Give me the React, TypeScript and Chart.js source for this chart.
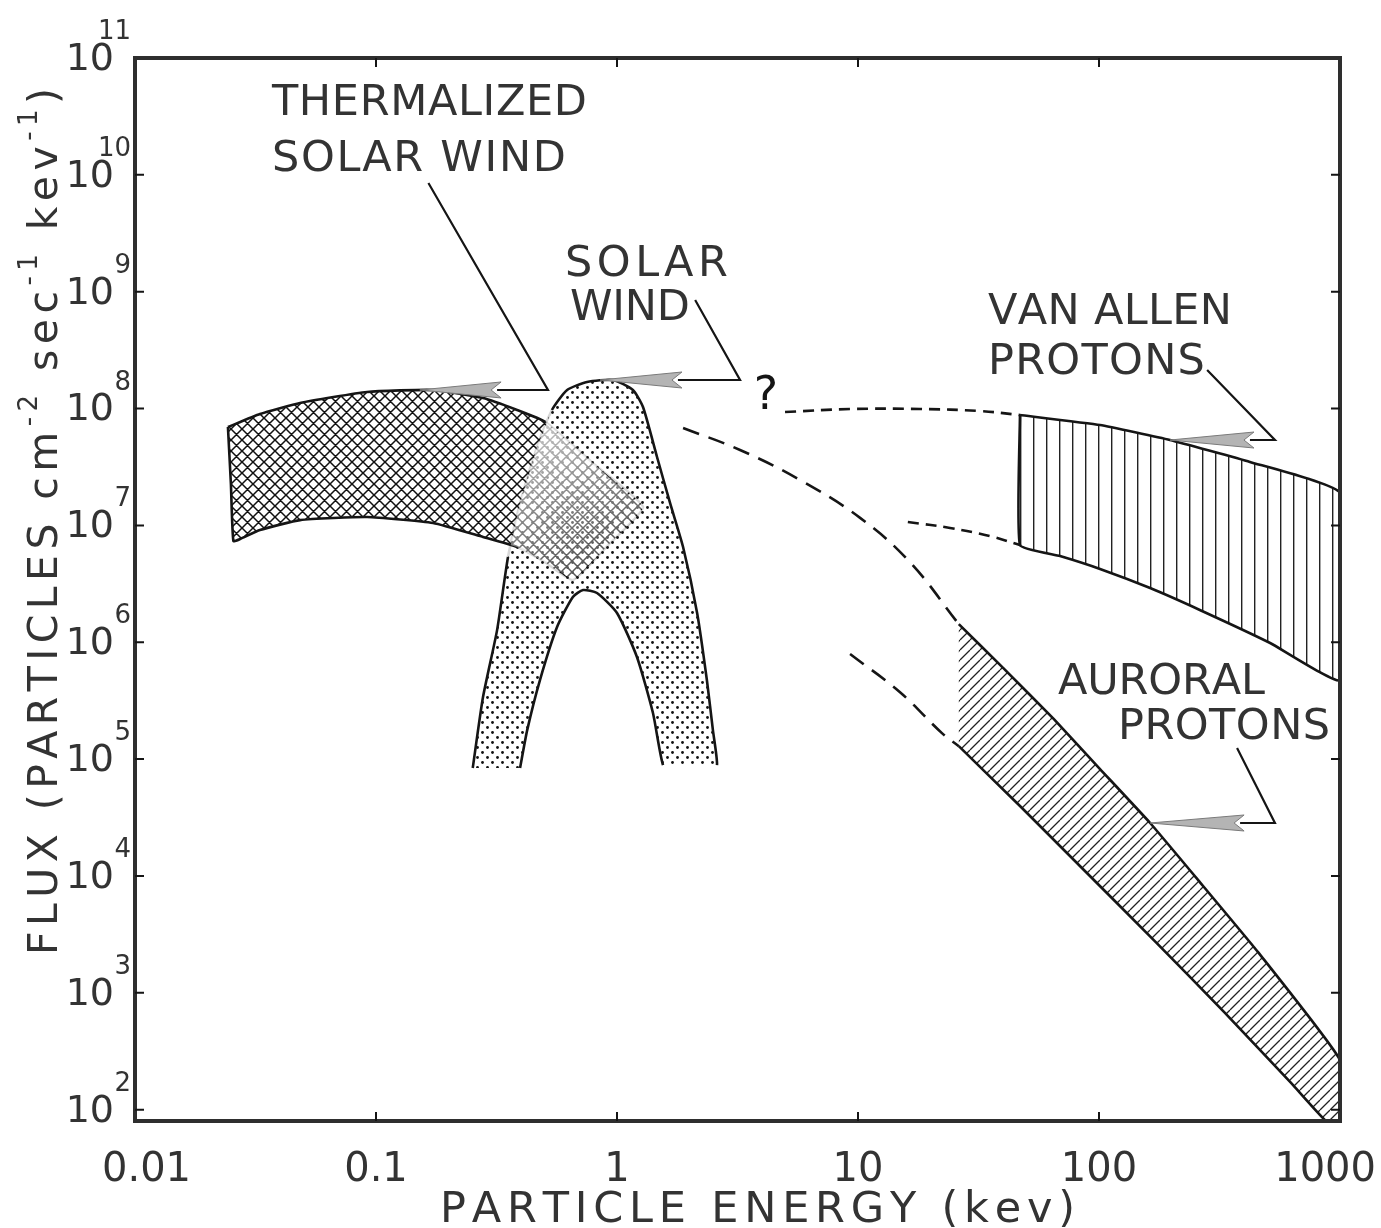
import React, { useEffect, useRef } from 'react';
import { Chart, registerables } from 'chart.js';

Chart.register(...registerables);

type Pt = { x: number; y: number };

// ---------- axes ----------
const xTickValues = [0.01, 0.1, 1, 10, 100, 1000];
const xTickLabels = ['0.01', '0.1', '1', '10', '100', '1000'];
const yTickExponents = [2, 3, 4, 5, 6, 7, 8, 9, 10, 11];
const xTitle = 'PARTICLE ENERGY (kev)';
const yTitleParts = [
  { t: 'FLUX (PARTICLES cm', sup: false },
  { t: '-2', sup: true },
  { t: ' sec', sup: false },
  { t: '-1', sup: true },
  { t: ' kev', sup: false },
  { t: '-1', sup: true },
  { t: ')', sup: false },
];

// ---------- regions (energy keV, flux) ----------
const thermalizedSolarWind: Pt[] = [
  { x: 0.0243, y: 6.95e7 }, { x: 0.033, y: 8.98e7 }, { x: 0.0484, y: 1.117e8 }, { x: 0.0918, y: 1.387e8 },
  { x: 0.1725, y: 1.442e8 }, { x: 0.278, y: 1.23e8 }, { x: 0.385, y: 9.72e7 }, { x: 0.505, y: 7.67e7 },
  { x: 0.811, y: 3.29e7 }, { x: 1.282, y: 1.436e7 }, { x: 0.918, y: 6.79e6 }, { x: 0.656, y: 3.41e6 },
  { x: 0.502, y: 4.86e6 }, { x: 0.385, y: 6.53e6 }, { x: 0.278, y: 7.96e6 }, { x: 0.1725, y: 1.05e7 },
  { x: 0.0918, y: 1.18e7 }, { x: 0.0484, y: 1.11e7 }, { x: 0.033, y: 9.14e6 }, { x: 0.0273, y: 7.65e6 },
  { x: 0.0256, y: 7.35e6 }, { x: 0.025, y: 2.26e7 }, { x: 0.0243, y: 6.95e7 },
];

const solarWind: Pt[] = [
  { x: 0.252, y: 8.39e4 }, { x: 0.278, y: 3.4e5 }, { x: 0.318, y: 1.27e6 }, { x: 0.353, y: 5.37e6 },
  { x: 0.396, y: 1.556e7 }, { x: 0.466, y: 4.69e7 }, { x: 0.537, y: 9.72e7 }, { x: 0.621, y: 1.442e8 },
  { x: 0.751, y: 1.687e8 }, { x: 0.962, y: 1.755e8 }, { x: 1.164, y: 1.442e8 }, { x: 1.282, y: 1.03e8 },
  { x: 1.466, y: 3.85e7 }, { x: 1.66, y: 1.556e7 }, { x: 1.88, y: 6.53e6 }, { x: 2.15, y: 1.78e6 },
  { x: 2.36, y: 4.75e5 }, { x: 2.5, y: 1.77e5 }, { x: 2.6, y: 8.9e4 }, { x: 2.43, y: 8.9e4 },
  { x: 1.66, y: 8.9e4 }, { x: 1.552, y: 8.9e4 }, { x: 1.41, y: 2.48e5 }, { x: 1.21, y: 7.48e5 },
  { x: 1.0, y: 1.78e6 }, { x: 0.826, y: 2.64e6 }, { x: 0.723, y: 2.8e6 }, { x: 0.656, y: 2.44e6 },
  { x: 0.564, y: 1.35e6 }, { x: 0.479, y: 4.75e5 }, { x: 0.424, y: 1.77e5 }, { x: 0.396, y: 8.39e4 },
];

const vanAllenProtons: Pt[] = [
  { x: 47, y: 8.81e7 }, { x: 101, y: 7.23e7 }, { x: 197, y: 5.38e7 }, { x: 423, y: 3.49e7 }, { x: 1000, y: 1.89e7 },
  { x: 1000, y: 4.75e5 }, { x: 513, y: 9.86e5 }, { x: 262, y: 1.89e6 }, { x: 163, y: 2.91e6 }, { x: 101, y: 4.24e6 },
  { x: 68.9, y: 5.47e6 }, { x: 47, y: 6.79e6 }, { x: 47, y: 8.81e7 },
];

const auroralProtons: Pt[] = [
  { x: 26.2, y: 1.43e6 }, { x: 40, y: 6.03e5 }, { x: 65, y: 2.2e5 }, { x: 101, y: 8.22e4 }, { x: 163, y: 2.84e4 },
  { x: 262, y: 8.87e3 }, { x: 457, y: 2.23e3 }, { x: 1000, y: 266 },
  { x: 1000, y: 80 }, { x: 875, y: 80 }, { x: 632, y: 166 }, { x: 330, y: 686 }, { x: 172, y: 2.72e3 },
  { x: 78.7, y: 1.37e4 }, { x: 47, y: 3.97e4 }, { x: 26.2, y: 1.29e5 },
];

// ---------- dashed extrapolations ----------
const vanAllenUpperDash: Pt[] = [
  { x: 4.98, y: 9.34e7 }, { x: 9.27, y: 9.91e7 }, { x: 18.1, y: 9.91e7 }, { x: 32.1, y: 9.53e7 }, { x: 47, y: 8.81e7 },
];
const vanAllenLowerDash: Pt[] = [
  { x: 16.1, y: 1.07e7 }, { x: 24.1, y: 9.51e6 }, { x: 35.3, y: 8.11e6 }, { x: 47, y: 6.79e6 },
];
const auroralUpperDash: Pt[] = [
  { x: 1.88, y: 6.82e7 }, { x: 3.24, y: 4.42e7 }, { x: 5.74, y: 2.45e7 }, { x: 10.2, y: 1.16e7 },
  { x: 16.4, y: 4.86e6 }, { x: 26.2, y: 1.43e6 },
];
const auroralLowerDash: Pt[] = [
  { x: 9.27, y: 7.93e5 }, { x: 14.9, y: 3.75e5 }, { x: 22.3, y: 1.67e5 }, { x: 26.2, y: 1.29e5 },
];

// ---------- annotations ----------
const thermalLeader: Pt[] = [{ x: 0.165, y: 8.51e9 }, { x: 0.517, y: 1.442e8 }, { x: 0.318, y: 1.442e8 }];
const solarLeader: Pt[] = [{ x: 2.11, y: 8.49e8 }, { x: 3.24, y: 1.755e8 }, { x: 1.79, y: 1.755e8 }];
const vanAllenLeader: Pt[] = [{ x: 281, y: 2.14e8 }, { x: 537, y: 5.38e7 }, { x: 423, y: 5.38e7 }];
const auroralLeader: Pt[] = [{ x: 374, y: 1.245e5 }, { x: 537, y: 2.84e4 }, { x: 385, y: 2.84e4 }];
const leaders = [thermalLeader, solarLeader, vanAllenLeader, auroralLeader];
const arrowTips: Pt[] = [{ x: 0.152, y: 1.442e8 }, { x: 0.85, y: 1.755e8 }, { x: 197, y: 5.38e7 }, { x: 163, y: 2.84e4 }];
const questionMark: Pt = { x: 4.15, y: 1.256e8 };

const annotationTexts = ['THERMALIZED', 'SOLAR WIND', 'SOLAR', 'WIND', 'VAN ALLEN', 'PROTONS', 'AURORAL', 'PROTONS'];
const annotationAnchors: Pt[] = [
  { x: 0.037, y: 4.04e10 }, { x: 0.037, y: 1.34e10 }, { x: 0.608, y: 1.69e9 }, { x: 0.638, y: 7.11e8 },
  { x: 34.6, y: 6.57e8 }, { x: 34.6, y: 2.45e8 }, { x: 67.6, y: 4.48e5 }, { x: 120, y: 1.85e5 },
];
// layout only: rendered widths (px) of the hand-lettered labels
const annotationWidths = [315, 294, 163, 120, 244, 217, 207, 212];

// ---------- style ----------
const FONT = '"DejaVu Sans", "Liberation Sans", sans-serif';
const INK = '#151515';
const TXT = '#333333';

function tile(size: number, draw: (c: CanvasRenderingContext2D, s: number) => void) {
  const cv = document.createElement('canvas');
  cv.width = size;
  cv.height = size;
  const c = cv.getContext('2d') as CanvasRenderingContext2D;
  draw(c, size);
  return cv;
}

function drawSpaced(ctx: CanvasRenderingContext2D, text: string, x: number, y: number, target: number, font: string) {
  ctx.font = font;
  const chars = Array.from(text);
  const widths = chars.map((ch) => ctx.measureText(ch).width);
  const sum = widths.reduce((a, b) => a + b, 0);
  const sp = chars.length > 1 ? (target - sum) / (chars.length - 1) : 0;
  let cx = x;
  chars.forEach((ch, i) => {
    ctx.fillText(ch, cx, y);
    cx += widths[i] + sp;
  });
}

function polyPath(ctx: CanvasRenderingContext2D, pts: Pt[], xs: any, ys: any) {
  ctx.beginPath();
  pts.forEach((p, i) => {
    const px = xs.getPixelForValue(p.x);
    const py = ys.getPixelForValue(p.y);
    if (i === 0) ctx.moveTo(px, py); else ctx.lineTo(px, py);
  });
  ctx.closePath();
}

const decorPlugin = {
  id: 'decor',
  afterDatasetsDraw(chart: any) {
    const { ctx, chartArea: a, scales } = chart;
    const xs = scales.x;
    const ys = scales.y;
    ctx.save();

    // washed-out overlap of the two solar-wind regions
    ctx.save();
    polyPath(ctx, solarWind, xs, ys);
    ctx.clip();
    polyPath(ctx, thermalizedSolarWind, xs, ys);
    const g0 = thermalizedSolarWind[7];
    const g1 = thermalizedSolarWind[10];
    const grad = ctx.createLinearGradient(
      xs.getPixelForValue(g0.x), ys.getPixelForValue(g0.y),
      xs.getPixelForValue(g1.x), ys.getPixelForValue(g1.y));
    grad.addColorStop(0, 'rgba(255,255,255,0.75)');
    grad.addColorStop(1, 'rgba(255,255,255,0.3)');
    ctx.fillStyle = grad;
    ctx.fill();
    ctx.restore();

    // arrowheads
    arrowTips.forEach((tip, i) => {
      const back = leaders[i][leaders[i].length - 1];
      const tx = xs.getPixelForValue(tip.x);
      const ty = ys.getPixelForValue(tip.y);
      const bx = xs.getPixelForValue(back.x);
      const by = ys.getPixelForValue(back.y);
      ctx.beginPath();
      ctx.moveTo(tx, ty);
      ctx.lineTo(bx + 4, by - 8);
      ctx.lineTo(bx - 6, by);
      ctx.lineTo(bx + 4, by + 8);
      ctx.closePath();
      ctx.fillStyle = '#b4b4b4';
      ctx.fill();
      ctx.strokeStyle = '#7a7a7a';
      ctx.lineWidth = 1;
      ctx.stroke();
    });

    // frame
    ctx.strokeStyle = '#2e2e2e';
    ctx.lineWidth = 4;
    ctx.strokeRect(a.left, a.top, a.right - a.left, a.bottom - a.top);

    // inward tick marks
    ctx.lineWidth = 2;
    ctx.strokeStyle = INK;
    yTickExponents.forEach((e) => {
      const py = ys.getPixelForValue(Math.pow(10, e));
      if (py <= a.top + 2 || py >= a.bottom - 2) return;
      ctx.beginPath();
      ctx.moveTo(a.left, py); ctx.lineTo(a.left + 9, py);
      ctx.moveTo(a.right, py); ctx.lineTo(a.right - 9, py);
      ctx.stroke();
    });
    xTickValues.forEach((v) => {
      const px = xs.getPixelForValue(v);
      if (px <= a.left + 2 || px >= a.right - 2) return;
      ctx.beginPath();
      ctx.moveTo(px, a.top); ctx.lineTo(px, a.top + 9);
      ctx.moveTo(px, a.bottom); ctx.lineTo(px, a.bottom - 9);
      ctx.stroke();
    });

    ctx.fillStyle = TXT;
    // y tick labels 10^n
    yTickExponents.forEach((e) => {
      const py = ys.getPixelForValue(Math.pow(10, e));
      ctx.font = `38px ${FONT}`;
      ctx.textAlign = 'right';
      ctx.textBaseline = 'middle';
      ctx.fillText('10', 114, py + 2);
      ctx.font = `26px ${FONT}`;
      ctx.textBaseline = 'alphabetic';
      ctx.fillText(String(e), 131, py - 19);
    });
    // x tick labels
    ctx.font = `40px ${FONT}`;
    ctx.textAlign = 'center';
    ctx.textBaseline = 'alphabetic';
    xTickValues.forEach((v, i) => {
      const w = ctx.measureText(xTickLabels[i]).width;
      let cx = xs.getPixelForValue(v);
      cx = Math.max(cx, 102 + w / 2);
      cx = Math.min(cx, chart.width - 5 - w / 2);
      ctx.fillText(xTickLabels[i], cx, 1181);
    });

    // x title
    ctx.textAlign = 'left';
    drawSpaced(ctx, xTitle, 440, 1222, 635, `43px ${FONT}`);

    // y title (rotated, with superscripts)
    ctx.save();
    ctx.translate(57, 955);
    ctx.rotate(-Math.PI / 2);
    const mainF = `41px ${FONT}`;
    const supF = `26px ${FONT}`;
    const items: { ch: string; sup: boolean; w: number }[] = [];
    yTitleParts.forEach((p) => {
      ctx.font = p.sup ? supF : mainF;
      Array.from(p.t).forEach((ch) => items.push({ ch, sup: p.sup, w: ctx.measureText(ch).width }));
    });
    const total = items.reduce((s, it) => s + it.w, 0);
    const sp = (867 - total) / (items.length - 1);
    let cx = 0;
    items.forEach((it) => {
      ctx.font = it.sup ? supF : mainF;
      ctx.fillText(it.ch, cx, it.sup ? -20 : 0);
      cx += it.w + sp;
    });
    ctx.restore();

    // annotation labels
    ctx.textAlign = 'left';
    ctx.textBaseline = 'middle';
    annotationTexts.forEach((t, i) => {
      const p = annotationAnchors[i];
      drawSpaced(ctx, t, xs.getPixelForValue(p.x), ys.getPixelForValue(p.y), annotationWidths[i], `43px ${FONT}`);
    });

    // question mark
    ctx.font = `46px ${FONT}`;
    ctx.textAlign = 'center';
    ctx.fillStyle = INK;
    ctx.fillText('?', xs.getPixelForValue(questionMark.x), ys.getPixelForValue(questionMark.y));

    ctx.restore();
  },
};

export default function App() {
  const ref = useRef<HTMLCanvasElement | null>(null);

  useEffect(() => {
    const canvas = ref.current;
    if (!canvas) return;
    const c2d = canvas.getContext('2d') as CanvasRenderingContext2D;

    const cross = c2d.createPattern(tile(11, (c, s) => {
      c.strokeStyle = '#111'; c.lineWidth = 1.5; c.beginPath();
      for (let k = -1; k <= 1; k++) {
        c.moveTo(k * s, 0); c.lineTo(k * s + s, s);
        c.moveTo(k * s, s); c.lineTo(k * s + s, 0);
      }
      c.stroke();
    }), 'repeat');
    const dots = c2d.createPattern(tile(10, (c) => {
      c.fillStyle = '#111';
      c.beginPath(); c.arc(2.5, 2.5, 1.4, 0, Math.PI * 2); c.fill();
      c.beginPath(); c.arc(7.5, 7.5, 1.4, 0, Math.PI * 2); c.fill();
    }), 'repeat');
    const vertical = c2d.createPattern(tile(13, (c, s) => {
      c.fillStyle = '#222'; c.fillRect(6, 0, 1.4, s);
    }), 'repeat');
    const diag = c2d.createPattern(tile(10, (c, s) => {
      c.strokeStyle = '#222'; c.lineWidth = 1.3; c.beginPath();
      for (let k = -1; k <= 1; k++) { c.moveTo(k * s, s); c.lineTo(k * s + s, 0); }
      c.stroke();
    }), 'repeat');

    const edgeColor = (faint: number[], hidden: number[]) => (sc: any) =>
      hidden.includes(sc.p0DataIndex) ? 'rgba(0,0,0,0)' : faint.includes(sc.p0DataIndex) ? 'rgba(40,40,40,0.18)' : INK;

    const fillDs = (data: Pt[], pat: any, tension: number, order: number) => ({
      data, fill: 'shape', backgroundColor: pat, borderWidth: 0, borderColor: 'rgba(0,0,0,0)',
      pointRadius: 0, tension, order,
    });
    const edgeDs = (data: Pt[], faint: number[], hidden: number[], tension: number, order: number) => ({
      data, fill: false, borderColor: INK, borderWidth: 2.6, pointRadius: 0, tension, order,
      segment: { borderColor: edgeColor(faint, hidden) },
    });
    const dashDs = (data: Pt[], dash: number[]) => ({
      data, fill: false, borderColor: INK, borderWidth: 2.6, borderDash: dash, pointRadius: 0, tension: 0.4, order: 2,
    });
    const leaderDs = (data: Pt[]) => ({
      data, fill: false, borderColor: INK, borderWidth: 2.2, pointRadius: 0, tension: 0, order: 1,
    });

    const chart = new Chart(canvas, {
      type: 'line',
      data: {
        datasets: [
          fillDs(solarWind, dots, 0.2, 20),
          edgeDs(solarWind, [3, 4, 5], [18, 19, 20], 0.2, 19),
          fillDs(thermalizedSolarWind, cross, 0.15, 18),
          edgeDs(thermalizedSolarWind, [7, 8, 9, 10, 11, 12], [], 0.15, 17),
          fillDs(vanAllenProtons, vertical, 0.12, 16),
          edgeDs(vanAllenProtons, [], [4], 0.12, 15),
          fillDs(auroralProtons, diag, 0.12, 14),
          edgeDs(auroralProtons, [], [7, 8], 0.12, 13),
          dashDs(vanAllenUpperDash, [11, 7]),
          dashDs(vanAllenLowerDash, [11, 7]),
          dashDs(auroralUpperDash, [17, 10]),
          dashDs(auroralLowerDash, [17, 10]),
          ...leaders.map(leaderDs),
        ] as any,
      },
      options: {
        animation: false,
        responsive: false,
        devicePixelRatio: 1,
        events: [],
        layout: { padding: { top: 58, right: 41, left: 0, bottom: 0 } },
        plugins: { legend: { display: false }, tooltip: { enabled: false } },
        scales: {
          x: {
            type: 'logarithmic', min: 0.01, max: 1000,
            grid: { display: false }, border: { display: false }, ticks: { display: false },
            afterFit: (s: any) => { s.height = 107; },
          },
          y: {
            type: 'logarithmic', min: 80, max: 1e11,
            grid: { display: false }, border: { display: false }, ticks: { display: false },
            afterFit: (s: any) => { s.width = 135; },
          },
        },
      } as any,
      plugins: [decorPlugin as any],
    });
    return () => chart.destroy();
  }, []);

  return (
    <div style={{ position: 'absolute', left: 0, top: 0, width: 1381, height: 1228, background: '#fff' }}>
      <canvas ref={ref} width={1381} height={1228} style={{ display: 'block', width: 1381, height: 1228 }} />
    </div>
  );
}
